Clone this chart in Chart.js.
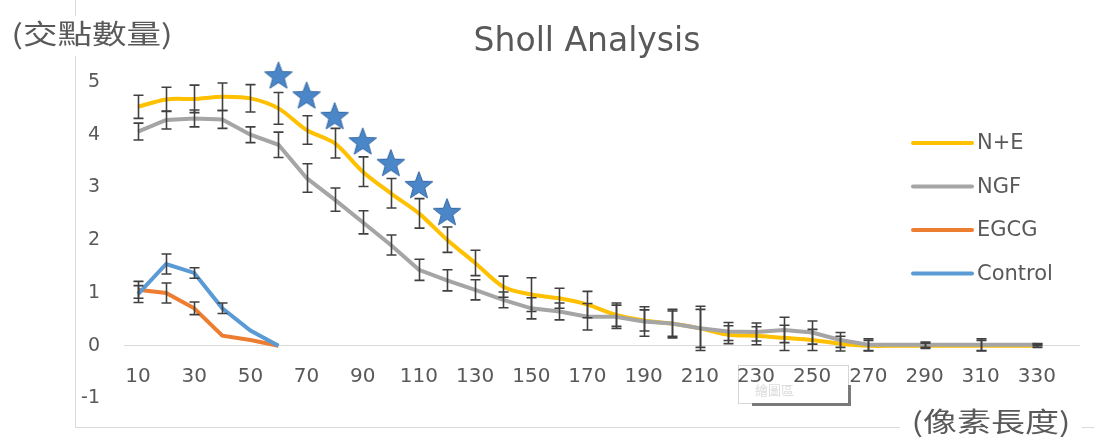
<!DOCTYPE html>
<html>
<head>
<meta charset="utf-8">
<script src="https://cdn.jsdelivr.net/npm/chart.js@4/dist/chart.umd.min.js"></script>
<style>
  html, body { margin: 0; padding: 0; background: #fff; }
</style>
</head>
<body>
<canvas id="chart" width="1094" height="437"></canvas>
<script>
// radius (px) categories, 10..340
const radii = [10, 20, 30, 40, 50, 60, 70, 80, 90, 100, 110, 120, 130, 140, 150, 160, 170,
               180, 190, 200, 210, 220, 230, 240, 250, 260, 270, 280, 290, 300, 310, 320, 330, 340];

// mean intersections per group
const nePlusE = [4.53, 4.67, 4.68, 4.72, 4.69, 4.50, 4.09, 3.84, 3.30, 2.89, 2.51, 2.01, 1.57, 1.12, 0.97, 0.90, 0.78,
                 0.59, 0.48, 0.42, 0.33, 0.21, 0.19, 0.15, 0.11, 0.04, 0, 0, 0, 0, 0, 0, 0];
const ngf     = [4.06, 4.28, 4.31, 4.29, 4.00, 3.81, 3.18, 2.77, 2.34, 1.91, 1.44, 1.24, 1.06, 0.87, 0.71, 0.65, 0.55,
                 0.55, 0.46, 0.42, 0.33, 0.27, 0.26, 0.30, 0.25, 0.11, 0.02, 0.02, 0.02, 0.02, 0.02, 0.02, 0.02];
const egcg    = [1.06, 1.00, 0.71, 0.19, 0.11, 0];
const control = [0.98, 1.55, 1.38, 0.71, 0.29, 0];

// error bar half-lengths
const nePlusEErr = [0.22, 0.23, 0.26, 0.26, 0.26, 0.30, 0.27, 0.28, 0.28, 0.28, 0.28, 0.24, 0.24, 0.20, 0.32, 0.19, 0.25,
                    0.22, 0.20, 0.24, 0.36, 0.17, 0.17, 0.24, 0.20, 0.14, 0.10, 0, 0.05, 0, 0.10, 0, 0.03];
const ngfErr     = [0.16, 0.17, 0.16, 0.17, 0.15, 0.24, 0.27, 0.22, 0.22, 0.19, 0.20, 0.20, 0.19, 0.15, 0.20, 0.16, 0.25,
                    0.22, 0.28, 0.27, 0.42, 0.17, 0.17, 0.24, 0.22, 0.14, 0.11, 0, 0.05, 0, 0.11, 0, 0.02];
const egcgErr    = [0.16, 0.19, 0.12, 0, 0, 0];
const controlErr = [0.16, 0.19, 0.10, 0.10, 0, 0];

// significance stars (drawn above N+E, 60..120)
const starMarks = [null, null, null, null, null, 5.13, 4.75, 4.36, 3.88, 3.47, 3.05, 2.54];

const yTicks = [-1, 0, 1, 2, 3, 4, 5];

const TEXT = "#595959";
const LATIN = "'DejaVu Sans', sans-serif";
const CJK = "'Noto Sans CJK TC', sans-serif";

// filled 5-point star used as point image
function makeStar() {
    const c = document.createElement("canvas");
    c.width = 32; c.height = 32;
    const g = c.getContext("2d");
    const R = 14.5, r = 6.1, cx = 16, cy = 17.3;
    g.beginPath();
    for (let i = 0; i < 10; i++) {
        const rad = i % 2 === 0 ? R : r;
        const a = -Math.PI / 2 + i * Math.PI / 5;
        g.lineTo(cx + rad * Math.cos(a), cy + rad * Math.sin(a));
    }
    g.closePath();
    g.fillStyle = "#4a86c8";
    g.fill();
    g.strokeStyle = "#3467a3";
    g.lineWidth = 1;
    g.stroke();
    return c;
}

const extras = {
    id: "extras",
    beforeDraw(chart) {
        const ctx = chart.ctx;
        ctx.save();
        ctx.fillStyle = "#fff";
        ctx.fillRect(0, 0, chart.width, chart.height);
        // chart frame (left + bottom)
        ctx.strokeStyle = "#d9d9d9";
        ctx.lineWidth = 1;
        ctx.beginPath();
        ctx.moveTo(75.5, 0);
        ctx.lineTo(75.5, 427.5);
        ctx.lineTo(chart.width, 427.5);
        ctx.stroke();
        // leftover Excel tooltip box
        ctx.fillStyle = "#fff";
        ctx.fillRect(738, 365, 110, 38);
        ctx.strokeStyle = "#d6d6d6";
        ctx.strokeRect(738.5, 365.5, 110, 38);
        ctx.fillStyle = "#7a7a7a";
        ctx.fillRect(752, 403, 99, 3);
        ctx.fillRect(848, 385, 3, 21);
        ctx.fillStyle = "#dcdcdc";
        ctx.font = "13px " + CJK;
        ctx.textBaseline = "middle";
        ctx.fillText("繪圖區", 755, 390);
        ctx.restore();
    },
    afterDatasetsDraw(chart) {
        const ctx = chart.ctx;
        const y = chart.scales.y;
        ctx.save();
        ctx.strokeStyle = "#404040";
        ctx.lineWidth = 1.6;
        chart.data.datasets.forEach((ds, i) => {
            if (!ds.err) return;
            const meta = chart.getDatasetMeta(i);
            meta.data.forEach((pt, j) => {
                const e = ds.err[j];
                const v = ds.data[j];
                if (!e || v == null) return;
                const x = Math.round(pt.x) + 0.5;
                const top = y.getPixelForValue(v + e);
                const bot = y.getPixelForValue(v - e);
                ctx.beginPath();
                ctx.moveTo(x, top); ctx.lineTo(x, bot);
                ctx.moveTo(x - 5, top); ctx.lineTo(x + 5, top);
                ctx.moveTo(x - 5, bot); ctx.lineTo(x + 5, bot);
                ctx.stroke();
            });
        });
        ctx.restore();
    },
    afterDraw(chart) {
        const ctx = chart.ctx;
        ctx.save();
        // chart title
        ctx.fillStyle = TEXT;
        ctx.textBaseline = "middle";
        ctx.textAlign = "center";
        ctx.font = "33px " + LATIN;
        ctx.fillText("Sholl Analysis", 587, 42);

        ctx.fillStyle = "#fff";
        ctx.fillRect(0, 16, 185, 40);
        ctx.fillRect(900, 405, 182, 32);
        ctx.fillStyle = TEXT;
        ctx.font = "27px " + CJK;
        // axis titles, slightly widened like the source
        ctx.save();
        ctx.translate(92, 34);
        ctx.scale(1.28, 1);
        ctx.fillText("(交點數量)", 0, 0);
        ctx.restore();
        ctx.save();
        ctx.translate(991, 422);
        ctx.scale(1.26, 1);
        ctx.fillText("(像素長度)", 0, 0);
        ctx.restore();

        // legend
        ctx.textAlign = "left";
        ctx.font = "21px " + LATIN;
        ctx.lineWidth = 4;
        ctx.lineCap = "round";
        let row = 0;
        chart.data.datasets.forEach(ds => {
            if (ds.noLegend) return;
            const ly = 143 + row * 43.5;
            ctx.strokeStyle = ds.borderColor;
            ctx.beginPath();
            ctx.moveTo(913, ly); ctx.lineTo(972, ly);
            ctx.stroke();
            ctx.fillStyle = TEXT;
            ctx.fillText(ds.label, 977, ly + 1);
            row++;
        });
        ctx.restore();
    }
};

Chart.defaults.font.family = LATIN;
Chart.defaults.color = TEXT;

new Chart(document.getElementById("chart"), {
    type: "line",
    data: {
        labels: radii,
        datasets: [
            { label: "N+E", data: nePlusE, err: nePlusEErr, borderColor: "#ffc000", borderWidth: 4,
              tension: 0.3, pointRadius: 0, order: 4 },
            { label: "NGF", data: ngf, err: ngfErr, borderColor: "#a5a5a5", borderWidth: 4,
              tension: 0, pointRadius: 0, order: 3 },
            { label: "EGCG", data: egcg, err: egcgErr, borderColor: "#ed7d31", borderWidth: 4,
              tension: 0, pointRadius: 0, order: 2 },
            { label: "Control", data: control, err: controlErr, borderColor: "#5b9bd5", borderWidth: 4,
              tension: 0, pointRadius: 0, order: 1 },
            { label: "sig", data: starMarks, noLegend: true, showLine: false, pointStyle: makeStar(),
              pointRadius: 14, clip: false, order: 0 }
        ]
    },
    options: {
        responsive: false,
        animation: false,
        devicePixelRatio: 1,
        layout: { padding: { left: 60, right: 15, top: 82, bottom: 38.5 } },
        plugins: {
            legend: { display: false },
            tooltip: { enabled: false },
            title: { display: false }
        },
        scales: {
            x: {
                type: "category",
                offset: true,
                position: { y: 0 },
                grid: { display: false, drawTicks: false },
                border: { display: true, color: "#d9d9d9", width: 1 },
                ticks: {
                    autoSkip: false,
                    maxRotation: 0,
                    padding: 19,
                    font: { size: 20 },
                    color: TEXT,
                    callback: function (v, i) { return i % 2 === 0 ? this.getLabelForValue(v) : ""; }
                },
                afterFit(scale) { scale.height = 0; }
            },
            y: {
                min: yTicks[0],
                max: yTicks[yTicks.length - 1],
                grid: { display: false, drawTicks: false },
                border: { display: false },
                ticks: { stepSize: 1, padding: 24, font: { size: 19 }, color: TEXT },
                afterFit(scale) { scale.width = 64; }
            }
        }
    },
    plugins: [extras]
});
</script>
</body>
</html>
